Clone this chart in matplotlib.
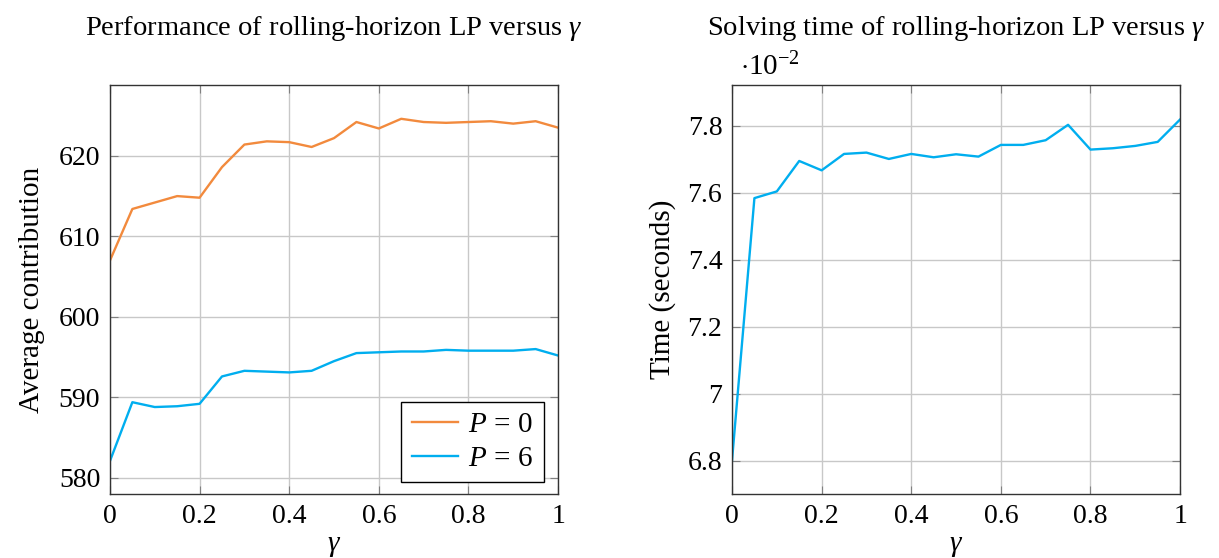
import numpy as np
import matplotlib
matplotlib.use('Agg')
import matplotlib.pyplot as plt

plt.rcParams['font.family'] = ['Liberation Serif', 'DejaVu Serif']
plt.rcParams['mathtext.fontset'] = 'custom'
plt.rcParams['mathtext.rm'] = 'Liberation Serif'
plt.rcParams['mathtext.it'] = 'Liberation Serif:italic'
plt.rcParams['font.size'] = 20

gamma = [0.0, 0.05, 0.1, 0.15, 0.2, 0.25, 0.3, 0.35, 0.4, 0.45, 0.5,
         0.55, 0.6, 0.65, 0.7, 0.75, 0.8, 0.85, 0.9, 0.95, 1.0]

contrib_p0 = [607.0, 613.4, 614.2, 615.0, 614.8, 618.6, 621.4, 621.8, 621.7, 621.1, 622.2,
              624.2, 623.4, 624.6, 624.2, 624.1, 624.2, 624.3, 624.0, 624.3, 623.5]
contrib_p6 = [582.1, 589.4, 588.8, 588.9, 589.2, 592.6, 593.3, 593.2, 593.1, 593.3, 594.5,
              595.5, 595.6, 595.7, 595.7, 595.9, 595.8, 595.8, 595.8, 596.0, 595.2]

# solving time in units of 1e-2 seconds
solve_time = [6.80, 7.584, 7.604, 7.695, 7.667, 7.716, 7.720, 7.701, 7.716, 7.706, 7.715,
              7.708, 7.743, 7.743, 7.757, 7.803, 7.729, 7.733, 7.740, 7.752, 7.819]

ORANGE = '#f28a3d'
CYAN = '#00aeef'
GRID = '#c8c8c8'

fig = plt.figure(figsize=(12.19, 5.58), dpi=100)
ax1 = fig.add_axes([0.0902, 0.1147, 0.3676, 0.733])
ax2 = fig.add_axes([0.6005, 0.1147, 0.3676, 0.733])


def style(ax):
    ax.grid(True, color=GRID, lw=1.0)
    ax.set_axisbelow(True)
    ax.tick_params(direction='in', length=6, color='#808080', top=True, right=True,
                   pad=7, labelsize=20)
    for s in ax.spines.values():
        s.set_color('#333333')
        s.set_linewidth(1.0)
    ax.set_xlim(0, 1)
    ax.set_xticks([0, 0.2, 0.4, 0.6, 0.8, 1])
    ax.set_xticklabels(['0', '0.2', '0.4', '0.6', '0.8', '1'])
    ax.set_xlabel(r'$\gamma$', labelpad=3, fontsize=21)


ax1.plot(gamma, contrib_p0, color=ORANGE, lw=1.7, label=r'$P\,=\,0$')
ax1.plot(gamma, contrib_p6, color=CYAN, lw=1.7, label=r'$P\,=\,6$')
style(ax1)
ax1.set_ylim(578, 628.8)
ax1.set_yticks([580, 590, 600, 610, 620])
ax1.set_ylabel('Average contribution', labelpad=10, fontsize=21)
ax1.set_title(r'Performance of rolling-horizon LP versus $\gamma$', pad=36, fontsize=20.5)
leg = ax1.legend(loc='lower right', fancybox=False, edgecolor='black', framealpha=1,
                 handlelength=1.6, handletextpad=0.35, borderpad=0.35, labelspacing=0.25,
                 fontsize=21, borderaxespad=0, bbox_to_anchor=(0.969, 0.029))
leg.get_frame().set_linewidth(1.0)

ax2.plot(gamma, solve_time, color=CYAN, lw=1.7)
style(ax2)
ax2.set_ylim(6.70, 7.922)
ax2.set_yticks([6.8, 7.0, 7.2, 7.4, 7.6, 7.8])
ax2.set_yticklabels(['6.8', '7', '7.2', '7.4', '7.6', '7.8'])
ax2.set_ylabel('Time (seconds)', labelpad=8, fontsize=21)
ax2.set_title(r'Solving time of rolling-horizon LP versus $\gamma$', pad=36, fontsize=20.5)
ax2.text(0.018, 1.008, r'$\cdot 10^{-2}$', transform=ax2.transAxes, ha='left', va='bottom',
         fontsize=21)

fig.savefig('out.png', dpi=100)
